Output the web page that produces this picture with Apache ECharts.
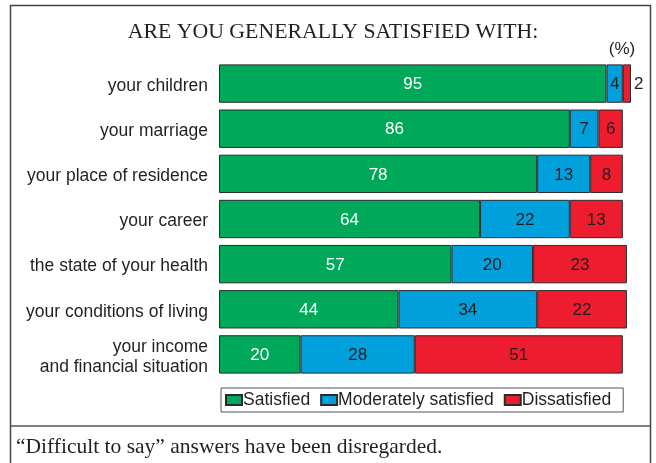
<!DOCTYPE html>
<html>
<head>
<meta charset="utf-8">
<script src="https://cdn.jsdelivr.net/npm/echarts@6/dist/echarts.min.js"></script>
<style>
  html, body { margin: 0; padding: 0; background: #fff; }
  #chart { width: 656px; height: 463px; }
</style>
</head>
<body>
<div id="chart"></div>
<script>
// Survey answers, percent of respondents
const categories = [
  'your children',
  'your marriage',
  'your place of residence',
  'your career',
  'the state of your health',
  'your conditions of living',
  'your income\nand financial situation'
];
const satisfied = [95, 86, 78, 64, 57, 44, 20];
const moderately = [4, 7, 13, 22, 20, 34, 28];
const dissatisfied = [2, 6, 8, 13, 23, 22, 51];
const seriesNames = ['Satisfied', 'Moderately satisfied', 'Dissatisfied'];
const titleText = 'ARE YOU GENERALLY SATISFIED WITH:';
const unitText = '(%)';
const footnote = '\u201CDifficult to say\u201D answers have been disregarded.';

const colors = ['#00a859', '#00a0dc', '#ed1c2e'];
const labelColors = ['#ffffff', '#231f20', '#231f20'];
const sans = 'Liberation Sans, Arial, sans-serif';
const serif = 'Liberation Serif, Times New Roman, serif';

function makeSeries(name, values, idx) {
  return {
    name: name,
    type: 'bar',
    stack: 'total',
    barCategoryGap: '15%',
    itemStyle: { color: colors[idx], borderColor: '#2b2b2b', borderWidth: 1 },
    label: {
      show: true,
      position: 'inside',
      offset: [0, 1],
      color: labelColors[idx],
      fontFamily: sans,
      fontSize: 17
    },
    emphasis: { disabled: true },
    data: values.map(function (v) {
      // segments too narrow for their number get it printed beside them
      if (v < 3) {
        return { value: v, label: { position: 'right', distance: 3, color: '#231f20' } };
      }
      return v;
    })
  };
}

const chart = echarts.init(document.getElementById('chart'));
chart.setOption({
  animation: false,
  grid: { left: 219, top: 61, width: 412, height: 316, containLabel: false },
  xAxis: {
    type: 'value', min: 0, max: 101,
    show: false
  },
  yAxis: {
    type: 'category',
    data: categories,
    inverse: true,
    axisLine: { show: false },
    axisTick: { show: false },
    axisLabel: {
      margin: 11,
      color: '#231f20',
      fontFamily: sans,
      fontSize: 17.5,
      lineHeight: 20,
      align: 'right',
      // nudge the names slightly below the bar centre line
      formatter: function (v) {
        return v.split('\n').map(function (s) { return '{n|' + s + '}'; }).join('\n');
      },
      rich: {
        n: { fontFamily: sans, fontSize: 17.5, color: '#231f20', lineHeight: 20, padding: [5, 0, 0, 0] }
      }
    }
  },
  legend: {
    data: seriesNames,
    left: 221,
    top: 388,
    orient: 'horizontal',
    icon: 'rect',
    itemWidth: 16,
    itemHeight: 10,
    itemGap: 10,
    padding: [3, 12, 3, 4],
    borderColor: '#555',
    borderWidth: 1,
    textStyle: { fontFamily: sans, fontSize: 17.5, color: '#231f20', padding: [0, 0, 0, -4] },
    selectedMode: false
  },
  graphic: [
    { type: 'rect', shape: { x: 10.5, y: 5.5, width: 640, height: 470 },
      style: { fill: 'none', stroke: '#444', lineWidth: 1.5 }, silent: true },
    { type: 'line', shape: { x1: 10.5, y1: 426, x2: 650.5, y2: 426 },
      style: { stroke: '#555', lineWidth: 1.5 }, silent: true },
    { type: 'text', x: 333, y: 32,
      style: { text: titleText, font: '21.8px ' + serif, fill: '#231f20', textAlign: 'center', textVerticalAlign: 'middle' } },
    { type: 'text', x: 622, y: 49,
      style: { text: unitText, font: '17px ' + sans, fill: '#231f20', textAlign: 'center', textVerticalAlign: 'middle' } },
    { type: 'text', x: 16, y: 447,
      style: { text: footnote, font: '21.5px ' + serif, fill: '#231f20', textAlign: 'left', textVerticalAlign: 'middle' } }
  ],
  series: [
    makeSeries(seriesNames[0], satisfied, 0),
    makeSeries(seriesNames[1], moderately, 1),
    makeSeries(seriesNames[2], dissatisfied, 2)
  ]
});
</script>
</body>
</html>
